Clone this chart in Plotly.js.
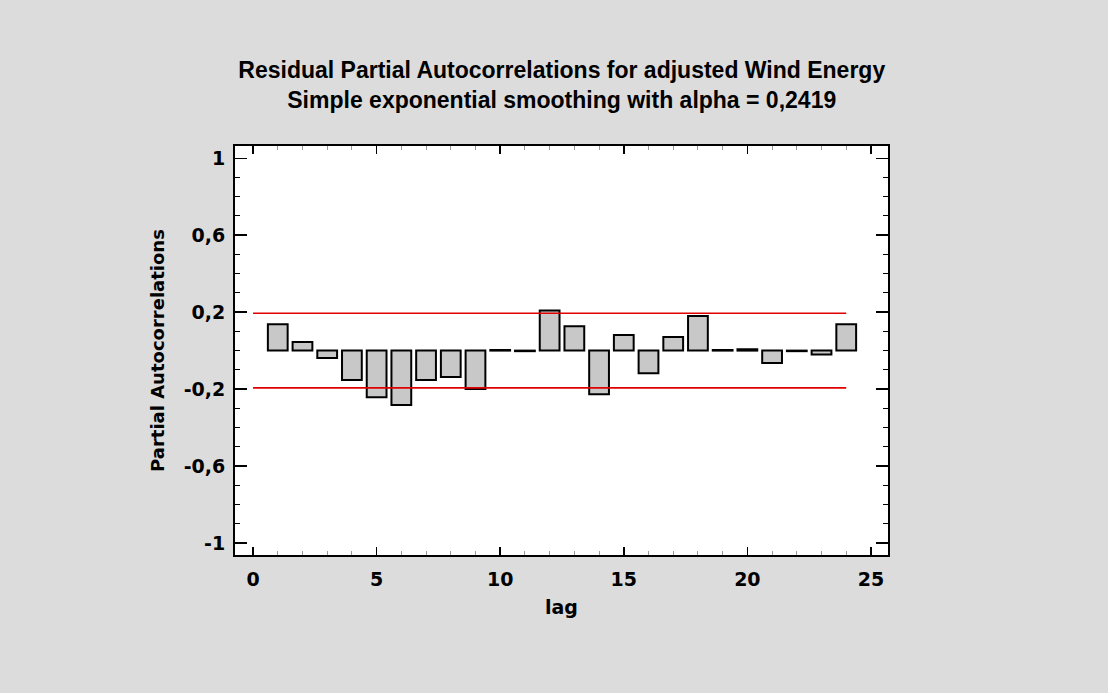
<!DOCTYPE html>
<html>
<head>
<meta charset="utf-8">
<script src="https://cdn.plot.ly/plotly-3.0.1.min.js"></script>
<style>
  html, body { margin: 0; padding: 0; background: #dcdcdc; }
  #chart { width: 1108px; height: 693px; }
</style>
</head>
<body>
<div id="chart"></div>
<script>
// Residual partial autocorrelations by lag
const lags = [1, 2, 3, 4, 5, 6, 7, 8, 9, 10, 11, 12, 13, 14, 15, 16, 17, 18, 19, 20, 21, 22, 23, 24];
const pacf = [0.137, 0.045, -0.038, -0.153, -0.243, -0.283, -0.153, -0.137, -0.200, 0.003, -0.003, 0.209,
              0.127, -0.227, 0.081, -0.118, 0.071, 0.180, 0.003, 0.007, -0.064, -0.003, -0.020, 0.137];

// 95% probability limits
const limit = 0.194;
const limitX = [0, 24];

const xTicks = [0, 5, 10, 15, 20, 25];
const yTickVals = [-1, -0.6, -0.2, 0.2, 0.6, 1];
const yTickText = ["-1", "-0,6", "-0,2", "0,2", "0,6", "1"];

const titleFont = "'Liberation Sans', Arial, sans-serif";
const axisFont = "'DejaVu Sans', Verdana, sans-serif";

const traces = [
  {
    type: "bar",
    x: lags,
    y: pacf,
    width: 0.8,
    marker: { color: "#c8c8c8", line: { color: "#000000", width: 2 } },
    hoverinfo: "x+y"
  },
  {
    type: "scatter",
    mode: "lines",
    x: limitX,
    y: [limit, limit],
    line: { color: "#e00000", width: 1.6 },
    hoverinfo: "skip"
  },
  {
    type: "scatter",
    mode: "lines",
    x: limitX,
    y: [-limit, -limit],
    line: { color: "#e00000", width: 1.6 },
    hoverinfo: "skip"
  }
];

const layout = {
  width: 1108,
  height: 693,
  paper_bgcolor: "#dcdcdc",
  plot_bgcolor: "#ffffff",
  showlegend: false,
  separators: ",.",
  margin: { l: 235, r: 220, t: 146, b: 138 },
  font: { family: axisFont, color: "#000000" },
  title: {
    text: "<b>Residual Partial Autocorrelations for adjusted Wind Energy</b><br><b>Simple exponential smoothing with alpha = 0,2419</b>",
    font: { family: titleFont, size: 23, color: "#000000" },
    x: 0.507,
    xanchor: "center",
    y: 0.887,
    yanchor: "middle"
  },
  xaxis: {
    range: [-0.73, 25.69],
    tickvals: xTicks,
    ticktext: xTicks.map(String),
    ticks: "inside",
    ticklen: 8,
    tickwidth: 1.5,
    tickcolor: "#000000",
    ticklabelstandoff: 6,
    minor: { dtick: 1, tick0: 0, ticks: "inside", ticklen: 4, tickcolor: "#999999", tickwidth: 1 },
    tickfont: { family: axisFont, size: 19, color: "#000000", weight: "bold" },
    showgrid: false,
    zeroline: false,
    showline: true,
    linecolor: "#000000",
    linewidth: 2,
    mirror: "ticks",
    title: { text: "<b>lag</b>", font: { family: axisFont, size: 19 }, standoff: 12 }
  },
  yaxis: {
    range: [-1.063, 1.064],
    tickvals: yTickVals,
    ticktext: yTickText,
    ticks: "inside",
    ticklen: 12,
    tickwidth: 1.5,
    tickcolor: "#000000",
    ticklabelstandoff: 4,
    minor: { dtick: 0.1, tick0: 0, ticks: "inside", ticklen: 5, tickcolor: "#000000", tickwidth: 1 },
    tickfont: { family: axisFont, size: 19, color: "#000000", weight: "bold" },
    showgrid: false,
    zeroline: false,
    showline: true,
    linecolor: "#000000",
    linewidth: 2,
    mirror: "ticks",
    title: { text: "<b>Partial Autocorrelations</b>", font: { family: axisFont, size: 18 }, standoff: 14 }
  }
};

Plotly.newPlot("chart", traces, layout, { displayModeBar: false, staticPlot: true });
</script>
</body>
</html>
